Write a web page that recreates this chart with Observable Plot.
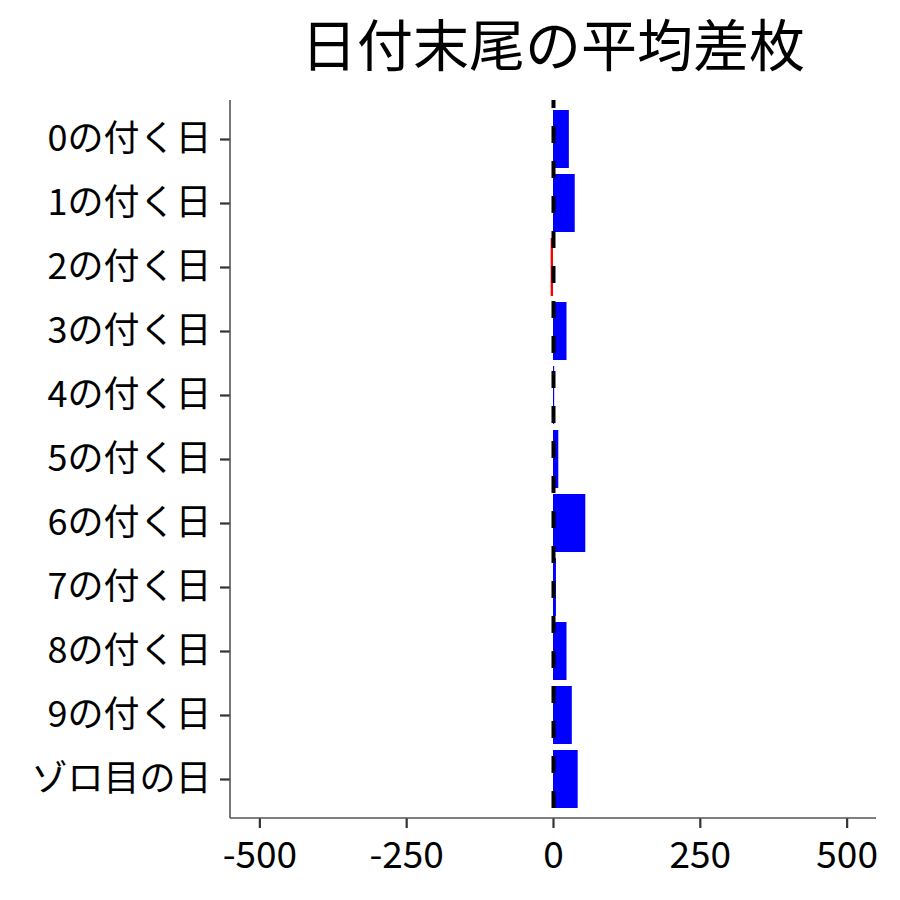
<!DOCTYPE html>
<html>
<head>
<meta charset="utf-8">
<script src="https://cdn.jsdelivr.net/npm/d3@7"></script>
<script src="https://cdn.jsdelivr.net/npm/@observablehq/plot@0.6"></script>
<style>
  html, body { margin: 0; padding: 0; background: #fff; }
  #title {
    height: 92px; line-height: 84px; box-sizing: border-box;
    padding-left: 206px; text-align: center;
    font-family: "Noto Sans CJK JP", sans-serif; font-size: 56px; color: #000;
    white-space: nowrap; overflow: hidden;
  }
  #chart svg { display: block; }
</style>
</head>
<body>
<div id="title">日付末尾の平均差枚</div>
<div id="chart"></div>
<script>
const labels = ["0の付く日","1の付く日","2の付く日","3の付く日","4の付く日","5の付く日","6の付く日","7の付く日","8の付く日","9の付く日","ゾロ目の日"];
const values = [27, 37, -4, 23, 2, 9, 55, 5, 23, 32, 42];
const xTicks = [-500, -250, 0, 250, 500];
const posColor = "blue";
const negColor = "red";

const data = labels.map((label, i) => ({label, value: values[i]}));

const axisLines = (index, scales, values, dims) => {
  const g = document.createElementNS("http://www.w3.org/2000/svg", "g");
  const left = dims.marginLeft, right = dims.width - dims.marginRight;
  const top = dims.marginTop, bottom = dims.height - dims.marginBottom;
  g.innerHTML = `<line x1="${left}" x2="${left}" y1="${top}" y2="${bottom}" stroke="#555" stroke-width="1.6"/>
    <line x1="${left}" x2="${right}" y1="${bottom}" y2="${bottom}" stroke="#555" stroke-width="1.6"/>`;
  return g;
};

const chart = Plot.plot({
  width: 900,
  height: 808,
  marginTop: 8,
  marginBottom: 82,
  marginLeft: 230,
  marginRight: 24,
  style: {fontFamily: "'Noto Sans CJK JP', sans-serif", color: "#000", background: "#fff"},
  x: {domain: [-550, 550], ticks: xTicks, label: null},
  y: {domain: labels, paddingInner: 0.1, paddingOuter: 0.15, label: null},
  color: {type: "identity"},
  marks: [
    Plot.barX(data, {x: "value", y: "label", fill: d => d.value < 0 ? negColor : posColor}),
    Plot.ruleX([0], {stroke: "black", strokeWidth: 4, strokeDasharray: "17,18", strokeDashoffset: 9}),
    Plot.axisX({ticks: xTicks, tickSize: 10, tickPadding: 13, fontSize: 37, stroke: "#333", strokeWidth: 2.2, fill: "#000", label: null, tickFormat: d => String(d)}),
    Plot.axisY({tickSize: 10, tickPadding: 9, fontSize: 36, stroke: "#333", strokeWidth: 2.2, fill: "#000", label: null}),
    axisLines
  ]
});
document.getElementById("chart").appendChild(chart);
</script>
</body>
</html>
